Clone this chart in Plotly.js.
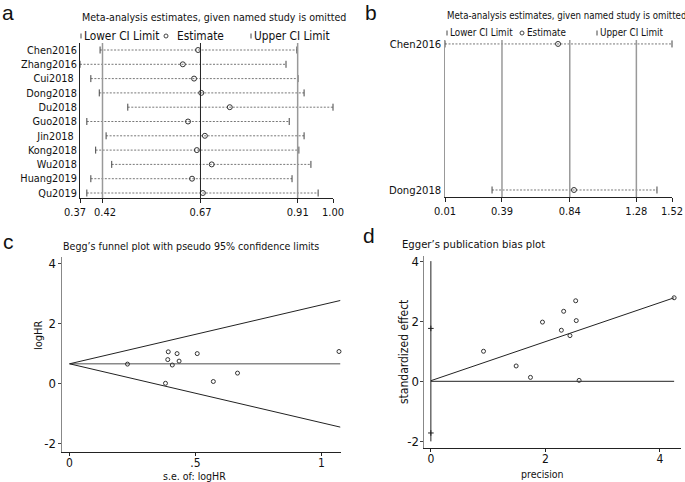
<!DOCTYPE html>
<html>
<head>
<meta charset="utf-8">
<script src="https://cdn.plot.ly/plotly-3.0.1.min.js"></script>
<style>html,body{margin:0;padding:0;background:#fff}#chart{width:685px;height:482px}</style>
</head>
<body>
<div id="chart"></div>
<script>
// ---------- Panel a: influence analysis (11 studies) ----------
const studiesA = ["Chen2016","Zhang2016","Cui2018\u00a0","Dong2018","Du2018","Guo2018","Jin2018\u00a0","Kong2018","Wu2018","Huang2019","Qu2019"];
const lowerA = [0.420,0.370,0.397,0.418,0.489,0.387,0.435,0.409,0.449,0.397,0.387];
const estA   = [0.664,0.626,0.654,0.672,0.743,0.639,0.681,0.661,0.698,0.649,0.676];
const upperA = [0.910,0.883,0.913,0.928,1.000,0.891,0.928,0.915,0.945,0.898,0.963];
const refLinesA = [0.426,0.670,0.912];
const tickValsA = [0.37,0.426,0.670,0.912,1.00];
const tickTextA = ["0.37\u2002\u2002","\u20020.42","0.67","0.91","1.00"];

// ---------- Panel b: influence analysis (2 studies) ----------
const studiesB = ["Chen2016","Dong2018"];
const lowerB = [0.01,0.323];
const estB   = [0.762,0.868];
const upperB = [1.52,1.42];
const refLinesB = [0.389,0.840,1.283];
const tickValsB = [0.01,0.389,0.840,1.283,1.52];
const tickTextB = ["0.01","0.39","0.84","1.28","1.52"];

// ---------- Panel c: Begg's funnel plot ----------
const beggSE    = [0.23,0.392,0.427,0.507,0.39,0.435,0.408,0.381,0.571,0.667,1.07];
const beggLogHR = [0.66,1.07,1.01,1.01,0.81,0.76,0.63,0.02,0.08,0.36,1.08];
const beggLineX = [0,1.075];
const beggCenter = [0.67,0.67];
const beggUpper = [0.67,2.78];
const beggLower = [0.67,-1.44];
const beggXTicks = [0,0.5,1], beggXText = ["0",".5","1"];
const beggYTicks = [-2,0,2,4], beggYText = ["-2","0","2","4"];

// ---------- Panel d: Egger's publication bias plot ----------
const eggerPrec = [4.25,2.53,2.32,1.95,2.54,2.28,2.43,1.74,2.59,0.92,1.49];
const eggerStd  = [2.78,2.68,2.33,1.97,2.02,1.70,1.52,0.13,0.03,1.00,0.51];
const eggerFitX = [0,4.25];
const eggerFitY = [0.02,2.78];
const eggerZeroY = [0,0];
const eggerCI = [-1.72,1.76];
const eggerXTicks = [0,2,4], eggerXText = ["0","2","4"];
const eggerYTicks = [-2,0,2,4], eggerYText = ["-2","0","2","4"];

// ---------- helpers ----------
const W = 685, H = 482;
const px = x => x / W;
const py = y => (H - y) / H;
const FONT = "'Liberation Sans Narrow','DejaVu Sans Condensed','Roboto Condensed',Arial,sans-serif";
const FONT2 = "'Liberation Sans',Arial,sans-serif";
const DOT = "#555", MK = "#333";

function ciTraces(lo, est, hi, xa, ya) {
  const lx = [], ly = [];
  lo.forEach((v, i) => { lx.push(v, hi[i], null); ly.push(i + 1, i + 1, null); });
  const idx = lo.map((_, i) => i + 1);
  return [
    {x: lx, y: ly, xaxis: xa, yaxis: ya, mode: 'lines', type: 'scatter', connectgaps: false,
     line: {color: DOT, width: 0.8, dash: '2px,1.5px'}, hoverinfo: 'skip', cliponaxis: false},
    {x: lo.concat(hi), y: idx.concat(idx), xaxis: xa, yaxis: ya, mode: 'markers', type: 'scatter',
     marker: {symbol: 'line-ns-open', size: 5, color: '#444', line: {color: '#444', width: 1}}, cliponaxis: false},
    {x: est, y: idx, xaxis: xa, yaxis: ya, mode: 'markers', type: 'scatter',
     marker: {symbol: 'circle-open', size: 5, color: MK, line: {color: MK, width: 1}}, cliponaxis: false}
  ];
}

const traces = [
  ...ciTraces(lowerA, estA, upperA, 'x', 'y'),
  ...ciTraces(lowerB, estB, upperB, 'x2', 'y2'),
  // panel c
  {x: beggLineX, y: beggCenter, xaxis: 'x3', yaxis: 'y3', mode: 'lines', line: {color: '#8a8a8a', width: 1.5}},
  {x: beggLineX, y: beggUpper, xaxis: 'x3', yaxis: 'y3', mode: 'lines', line: {color: '#222', width: 1}},
  {x: beggLineX, y: beggLower, xaxis: 'x3', yaxis: 'y3', mode: 'lines', line: {color: '#222', width: 1}},
  {x: beggSE, y: beggLogHR, xaxis: 'x3', yaxis: 'y3', mode: 'markers', cliponaxis: false,
   marker: {symbol: 'circle-open', size: 4, color: MK, line: {color: MK, width: 1}}},
  // panel d
  {x: eggerFitX, y: eggerZeroY, xaxis: 'x4', yaxis: 'y4', mode: 'lines', line: {color: '#222', width: 1}},
  {x: eggerFitX, y: eggerFitY, xaxis: 'x4', yaxis: 'y4', mode: 'lines', line: {color: '#222', width: 1}},
  {x: [0, 0], y: [Math.min(...eggerYTicks), Math.max(...eggerYTicks)], xaxis: 'x4', yaxis: 'y4', mode: 'lines', line: {color: '#222', width: 1}},
  {x: eggerCI.map(() => 0), y: eggerCI, xaxis: 'x4', yaxis: 'y4', mode: 'markers',
   marker: {symbol: 'cross-thin-open', size: 4, color: '#222', line: {color: '#222', width: 1}}},
  {x: eggerPrec, y: eggerStd, xaxis: 'x4', yaxis: 'y4', mode: 'markers', cliponaxis: false,
   marker: {symbol: 'circle-open', size: 4, color: MK, line: {color: MK, width: 1}}}
];

const shapes = [];
refLinesA.forEach((v, i) => shapes.push({type: 'line', xref: 'x', yref: 'y domain', x0: v, x1: v, y0: 0, y1: 1,
  line: {color: i === 1 ? '#222' : '#999', width: i === 1 ? 1 : 1.5}}));
refLinesB.forEach(v => shapes.push({type: 'line', xref: 'x2', yref: 'y2 domain', x0: v, x1: v, y0: 0, y1: 1,
  line: {color: '#999', width: 1.5}}));

// legend glyphs
function legendGlyphs(x1, xc, x2, y) {
  shapes.push({type: 'line', xref: 'paper', yref: 'paper', x0: px(x1), x1: px(x1), y0: py(y + 2.5), y1: py(y - 2.5), line: {color: '#444', width: 1}});
  shapes.push({type: 'line', xref: 'paper', yref: 'paper', x0: px(x2), x1: px(x2), y0: py(y + 2.5), y1: py(y - 2.5), line: {color: '#444', width: 1}});
  shapes.push({type: 'circle', xref: 'paper', yref: 'paper', x0: px(xc - 2), x1: px(xc + 2), y0: py(y + 2), y1: py(y - 2), line: {color: '#444', width: 1}});
}
legendGlyphs(81, 166, 251, 36);
legendGlyphs(447, 522, 597, 33);

function ann(text, x, y, size, opts = {}) {
  return Object.assign({text, xref: 'paper', yref: 'paper', x: px(x), y: py(y), showarrow: false,
    xanchor: 'left', yanchor: 'middle', borderpad: 0, font: {family: FONT, size, color: '#111'}}, opts);
}

const annotations = [
  ann('a', 1, 12, 21, {font: {family: FONT2, size: 21, color: '#111'}}),
  ann('b', 364, 12, 21, {font: {family: FONT2, size: 21, color: '#111'}}),
  ann('c', 2, 241, 21, {font: {family: FONT2, size: 21, color: '#111'}}),
  ann('d', 362, 235, 21, {font: {family: FONT2, size: 21, color: '#111'}}),
  ann('Meta-analysis estimates, given named study is omitted', 81, 17, 10.6),
  ann('Meta-analysis estimates, given named study is omitted', 446, 16, 9.6),
  ann('Lower CI Limit', 83, 36, 11.8),
  ann('Estimate', 176, 36, 11.8),
  ann('Upper CI Limit', 253, 36, 11.8),
  ann('Lower CI Limit', 449, 33, 9.8),
  ann('Estimate', 526, 33, 9.8),
  ann('Upper CI Limit', 599, 33, 9.8),
  ann("Begg\u2019s funnel plot with pseudo 95% confidence limits", 62, 246, 10.6),
  ann("Egger\u2019s publication bias plot", 401, 244, 11.2),
  ann('logHR', 38, 335, 11, {xanchor: 'center', textangle: -90}),
  ann('s.e. of: logHR', 194, 475.5, 10.5, {xanchor: 'center'}),
  ann('standardized effect', 404, 352, 12, {xanchor: 'center', textangle: -90}),
  ann('precision', 542, 473.5, 10.5, {xanchor: 'center'})
];

const axBase = {showgrid: false, zeroline: false, showline: true, linewidth: 1, fixedrange: true, tickangle: 0};
const layout = {
  width: W, height: H, margin: {l: 0, r: 0, t: 0, b: 0},
  paper_bgcolor: '#fff', plot_bgcolor: 'rgba(0,0,0,0)', showlegend: false,
  font: {family: FONT, color: '#111'},
  xaxis: Object.assign({}, axBase, {domain: [px(80), px(333)], range: [0.37, 1.00], anchor: 'y', linecolor: '#222',
    tickmode: 'array', tickvals: tickValsA, ticktext: tickTextA, ticks: 'outside', ticklen: 4, tickcolor: '#222',
    tickfont: {size: 11, family: FONT}}),
  yaxis: Object.assign({}, axBase, {domain: [py(198), py(43)], range: [11.35, 0.51], anchor: 'x', linecolor: '#222',
    tickmode: 'array', tickvals: studiesA.map((_, i) => i + 1), ticktext: studiesA, ticks: '', ticklabelstandoff: 0,
    tickfont: {size: 10.8, family: FONT}}),
  xaxis2: Object.assign({}, axBase, {domain: [px(445), px(672)], range: [0.01, 1.52], anchor: 'y2', linecolor: '#222',
    tickmode: 'array', tickvals: tickValsB, ticktext: tickTextB, ticks: 'outside', ticklen: 4, tickcolor: '#222',
    tickfont: {size: 11, family: FONT}}),
  yaxis2: Object.assign({}, axBase, {domain: [py(197), py(40)], range: [2.048, 0.973], anchor: 'x2', linecolor: '#999', linewidth: 1.5,
    tickmode: 'array', tickvals: [1, 2], ticktext: studiesB, ticks: '', ticklabelstandoff: 0,
    tickfont: {size: 11.2, family: FONT}}),
  xaxis3: Object.assign({}, axBase, {domain: [px(62), px(341)], range: [-0.03, 1.078], anchor: 'y3', linecolor: '#222',
    tickmode: 'array', tickvals: beggXTicks, ticktext: beggXText, ticks: 'outside', ticklen: 3, tickcolor: '#222',
    ticklabelstandoff: -3, tickfont: {size: 12, family: FONT}}),
  yaxis3: Object.assign({}, axBase, {domain: [py(452), py(257)], range: [-2.27, 4.23], anchor: 'x3', linecolor: '#888', linewidth: 1.5,
    tickmode: 'array', tickvals: beggYTicks, ticktext: beggYText, ticks: 'outside', ticklen: 3, tickcolor: '#444',
    ticklabelstandoff: -1, tickfont: {size: 13, family: FONT}}),
  xaxis4: Object.assign({}, axBase, {domain: [px(424), px(681)], range: [-0.12, 4.37], anchor: 'y4', linecolor: '#222',
    tickmode: 'array', tickvals: eggerXTicks, ticktext: eggerXText, ticks: 'outside', ticklen: 3, tickcolor: '#222',
    ticklabelstandoff: -3, tickfont: {size: 12, family: FONT}}),
  yaxis4: Object.assign({}, axBase, {domain: [py(448), py(256)], range: [-2.22, 4.17], anchor: 'x4', linecolor: '#888', linewidth: 1.5,
    tickmode: 'array', tickvals: eggerYTicks, ticktext: eggerYText, ticks: 'outside', ticklen: 3, tickcolor: '#444',
    ticklabelstandoff: -2, tickfont: {size: 13, family: FONT}}),
  shapes, annotations
};

Plotly.newPlot('chart', traces, layout, {staticPlot: true, displayModeBar: false});
</script>
</body>
</html>
